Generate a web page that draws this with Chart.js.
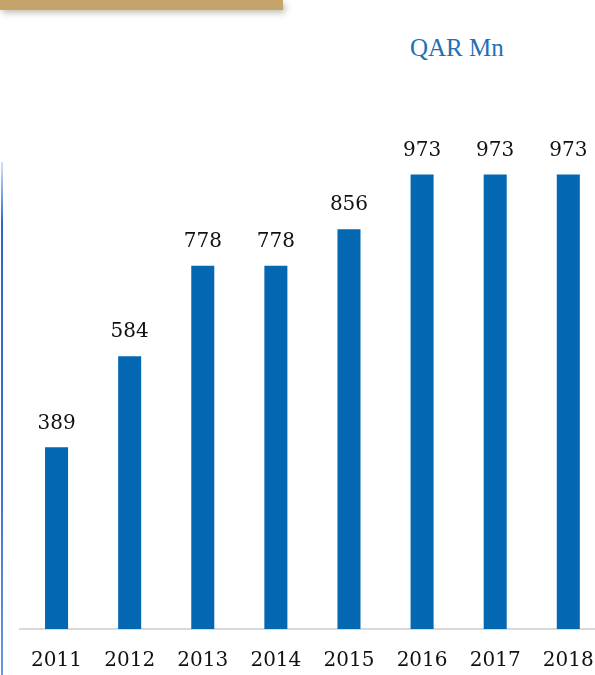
<!DOCTYPE html>
<html>
<head>
<meta charset="utf-8">
<script src="https://cdn.jsdelivr.net/npm/chart.js@4"></script>
<style>
  html, body { margin: 0; padding: 0; background: #fff; overflow: hidden; }
  body { width: 595px; height: 675px; position: relative; }
  #banner {
    position: absolute; left: 0; top: 0; width: 283px; height: 10px;
    background: #c4a46b;
    box-shadow: 2px 3px 6px rgba(120, 110, 90, 0.45);
  }
  #leftLine {
    position: absolute; left: 1px; top: 162px; width: 2px; height: 513px;
    background: linear-gradient(to bottom, rgba(60,110,200,0.2), #2f64cc 12%, #3b6fd2 60%, #6f93de);
  }
  #unit {
    position: absolute; left: 410px; top: 34px;
    font-family: "Liberation Serif", serif; font-size: 25px; color: #1f6fb8;
  }
  #wrap { position: absolute; left: 0; top: 0; width: 614px; height: 696px; }
</style>
</head>
<body>
<div id="banner"></div>
<div id="leftLine"></div>
<div id="unit">QAR Mn</div>
<div id="wrap"><canvas id="myChart"></canvas></div>
<script>
const years = ["2011", "2012", "2013", "2014", "2015", "2016", "2017", "2018"];
const valores = [389, 584, 778, 778, 856, 973, 973, 973];

const barColor = "#0467b1";
const labelFont = "20px 'DejaVu Serif', serif";

// etiquetas encima de cada barra
const valueLabels = {
    id: "valueLabels",
    afterDatasetsDraw(chart) {
        const ctx = chart.ctx;
        const meta = chart.getDatasetMeta(0);
        ctx.save();
        ctx.font = labelFont;
        ctx.fillStyle = "#111";
        ctx.textAlign = "center";
        ctx.textBaseline = "middle";
        meta.data.forEach((bar, i) => {
            ctx.fillText(valores[i], bar.x, bar.y - 24);
        });
        ctx.restore();
    }
};

const config = {
    type: "bar",
    data: {
        labels: years,
        datasets: [{
            data: valores,
            backgroundColor: barColor,
            categoryPercentage: 1,
            barPercentage: 0.315
        }]
    },
    options: {
        responsive: false,
        animation: false,
        layout: { padding: { left: 20, right: 4, top: 162, bottom: 3 } },
        plugins: { legend: { display: false }, tooltip: { enabled: false } },
        scales: {
            y: { display: false, min: 0, max: 1000 },
            x: {
                grid: { display: false, drawTicks: false },
                border: { display: true, color: "#d9d9d9", width: 2 },
                ticks: {
                    padding: 20,
                    color: "#111",
                    font: { family: "'DejaVu Serif', serif", size: 20 }
                }
            }
        }
    },
    plugins: [valueLabels]
};

const canvas = document.getElementById("myChart");
canvas.width = 614;
canvas.height = 696;
new Chart(canvas, config);
</script>
</body>
</html>
